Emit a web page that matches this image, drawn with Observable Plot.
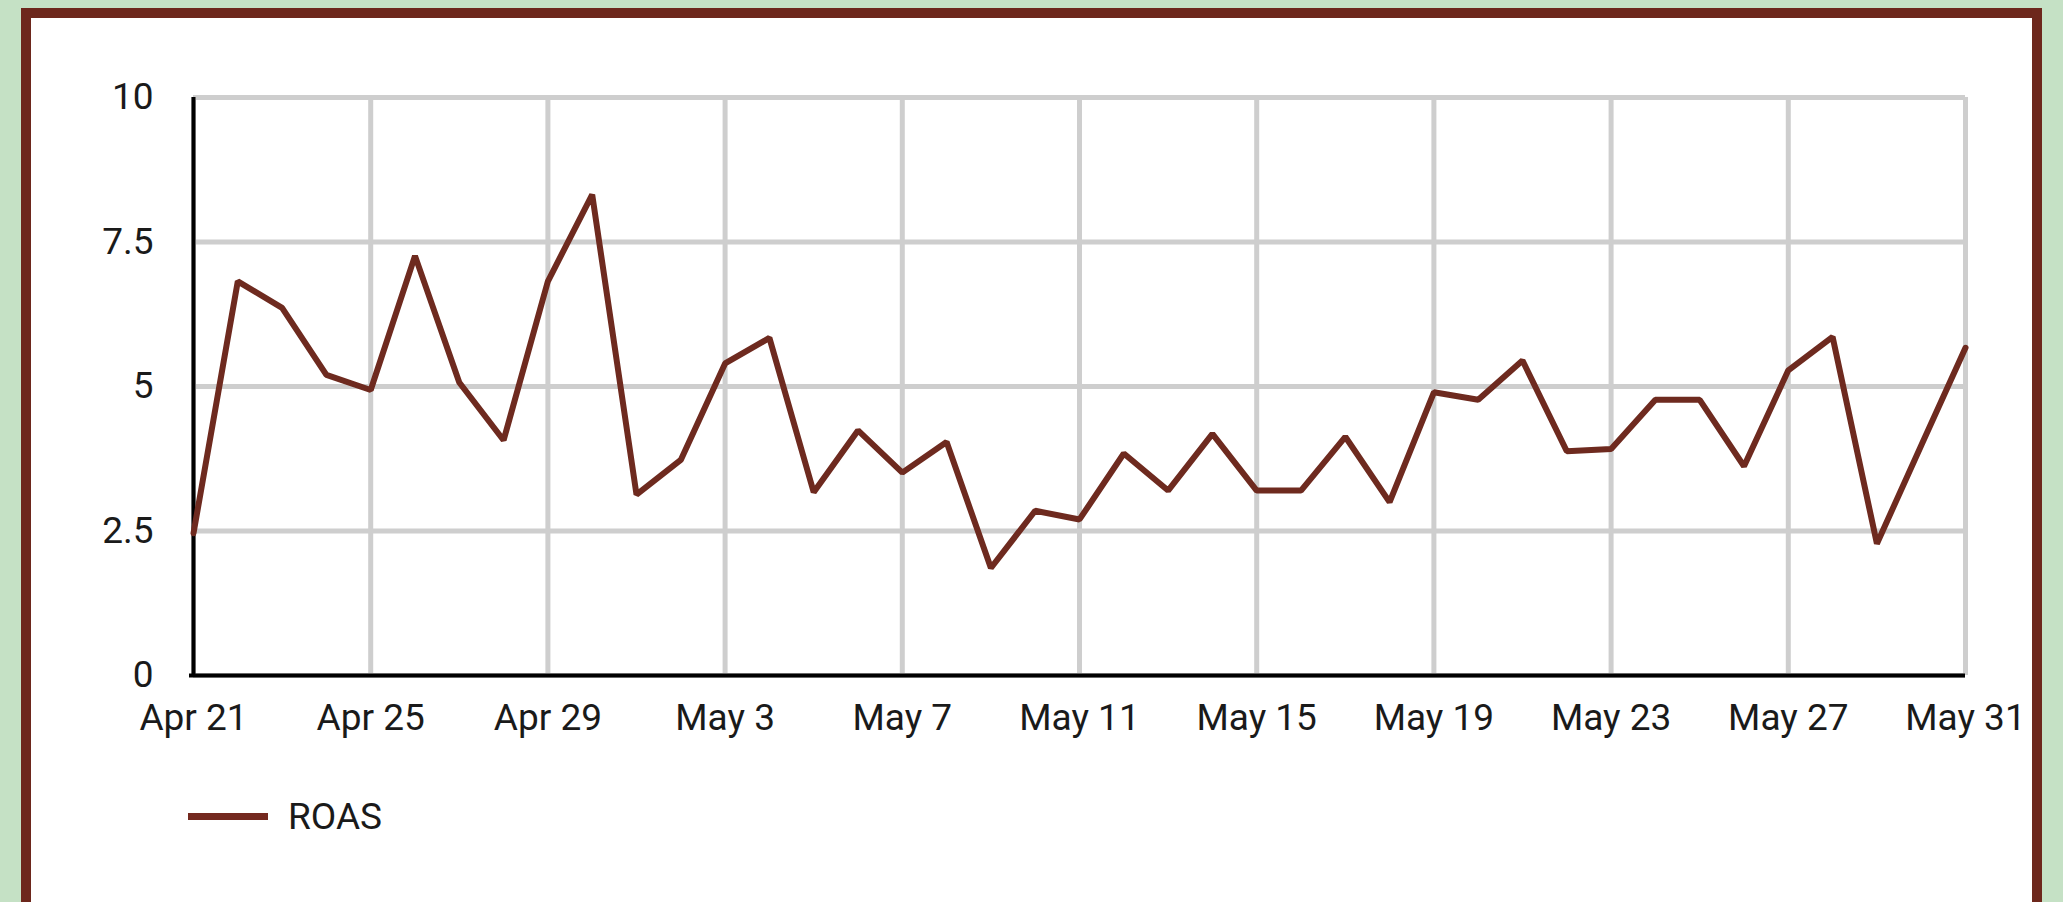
<!DOCTYPE html>
<html>
<head>
<meta charset="utf-8">
<script src="https://cdn.jsdelivr.net/npm/d3@7"></script>
<script src="https://cdn.jsdelivr.net/npm/@observablehq/plot@0.6"></script>
<style>
  html, body { margin: 0; padding: 0; width: 2063px; height: 902px; overflow: hidden; background: #c5e1c5; }
  .frame { position: absolute; left: 21px; top: 8px; width: 2021px; height: 1000px; box-sizing: border-box;
           border: 10px solid #6d271c; background: #ffffff; }
  #chart { position: absolute; left: 0; top: 0; }
  .legend { position: absolute; left: 188px; top: 795px; display: flex; align-items: center;
            font-family: Roboto, sans-serif; font-size: 37px; color: #1a1a1a; }
  .legend .swatch { width: 80px; height: 7px; background: #74291f; margin-right: 20px; }
</style>
</head>
<body>
<div class="frame"></div>
<div id="chart"></div>
<div class="legend"><span class="swatch"></span><span>ROAS</span></div>
<script>
const dates = [
  "2024-04-21","2024-04-22","2024-04-23","2024-04-24","2024-04-25","2024-04-26","2024-04-27",
  "2024-04-28","2024-04-29","2024-04-30","2024-05-01","2024-05-02","2024-05-03","2024-05-04",
  "2024-05-05","2024-05-06","2024-05-07","2024-05-08","2024-05-09","2024-05-10","2024-05-11",
  "2024-05-12","2024-05-13","2024-05-14","2024-05-15","2024-05-16","2024-05-17","2024-05-18",
  "2024-05-19","2024-05-20","2024-05-21","2024-05-22","2024-05-23","2024-05-24","2024-05-25",
  "2024-05-26","2024-05-27","2024-05-28","2024-05-29","2024-05-30","2024-05-31"
];
const roas = [
  2.46, 6.82, 6.36, 5.2, 4.94, 7.26, 5.07, 4.07, 6.82, 8.32,
  3.13, 3.73, 5.4, 5.84, 3.17, 4.24, 3.51, 4.04, 1.86, 2.85,
  2.7, 3.84, 3.2, 4.18, 3.2, 3.2, 4.13, 3.0, 4.9, 4.77,
  5.45, 3.88, 3.92, 4.77, 4.77, 3.62, 5.28, 5.86, 2.28, 3.98,
  5.67
];
const xTickDates = ["2024-04-21","2024-04-25","2024-04-29","2024-05-03","2024-05-07","2024-05-11",
                    "2024-05-15","2024-05-19","2024-05-23","2024-05-27","2024-05-31"];
const yTicks = [0, 2.5, 5, 7.5, 10];
const seriesName = "ROAS";

const parse = d3.utcParse("%Y-%m-%d");
const data = dates.map((d, i) => ({date: parse(d), value: roas[i], series: seriesName}));
const xTicks = xTickDates.map(parse);

const chart = Plot.plot({
  width: 2063,
  height: 760,
  marginLeft: 193,
  marginRight: 98,
  marginTop: 97,
  marginBottom: 85,
  style: {fontFamily: "Roboto, sans-serif", fontSize: "37px", color: "#1a1a1a", background: "transparent"},
  x: {type: "utc", domain: [parse(dates[0]), parse(dates[dates.length - 1])]},
  y: {domain: [0, 10]},
  marks: [
    Plot.gridX(xTicks, {stroke: "#cecece", strokeOpacity: 1, strokeWidth: 5}),
    Plot.gridY(yTicks, {stroke: "#cecece", strokeOpacity: 1, strokeWidth: 5}),
    Plot.axisX(xTicks, {tickSize: 0, tickPadding: 28, tickFormat: d3.utcFormat("%b %-d"), label: null, fontSize: 37}),
    Plot.axisY(yTicks, {tickSize: 0, tickPadding: 40, tickFormat: d3.format("~g"), label: null, fontSize: 37}),
    Plot.ruleY([0], {stroke: "#000", strokeWidth: 4, insetLeft: -4}),
    Plot.ruleX([parse(dates[0])], {stroke: "#000", strokeWidth: 4}),
    Plot.line(data, {x: "date", y: "value", stroke: "#6e2a1f", strokeWidth: 6, strokeLinejoin: "miter", curve: "linear"})
  ]
});
document.getElementById("chart").appendChild(chart);
</script>
</body>
</html>
